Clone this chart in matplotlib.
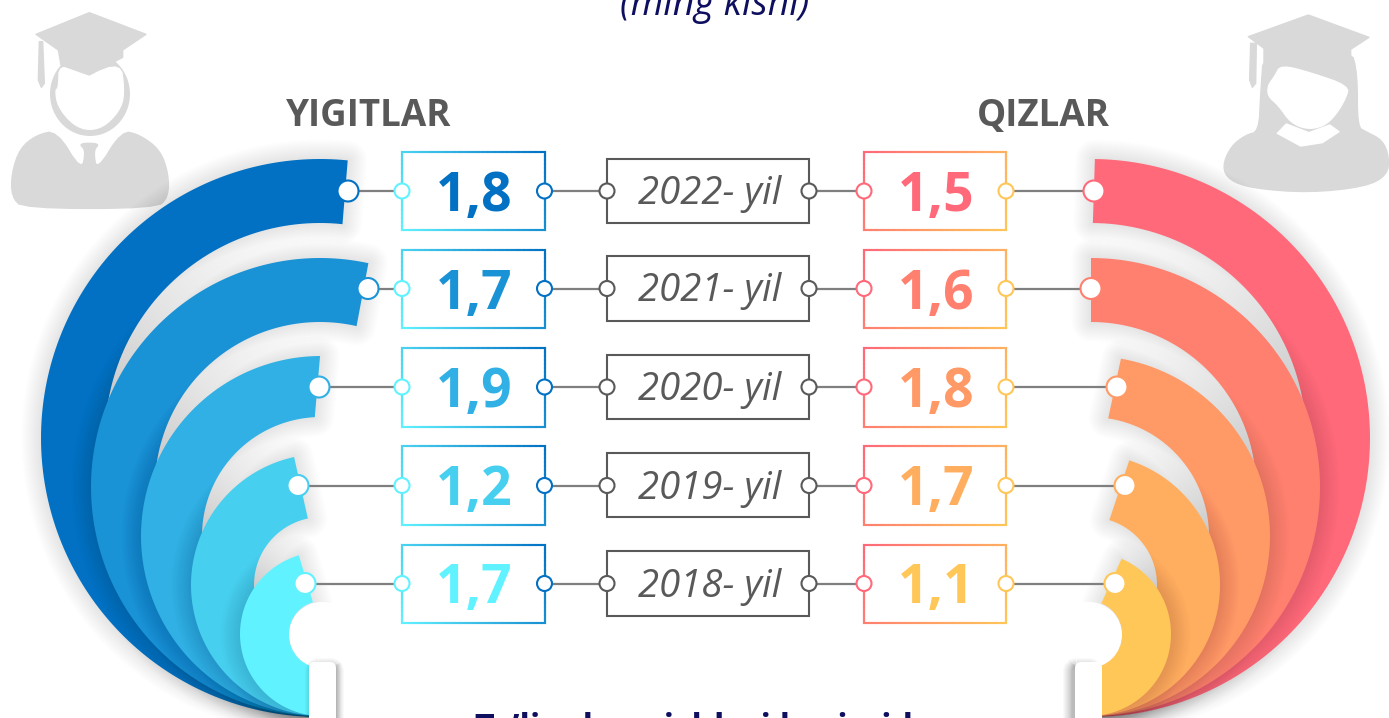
import numpy as np
import matplotlib
matplotlib.use('Agg')
import matplotlib.pyplot as plt
from matplotlib.collections import LineCollection
from matplotlib.patches import Circle, FancyBboxPatch, Polygon, Ellipse, Rectangle

plt.rcParams['font.family'] = ['Open Sans', 'DejaVu Sans']

years = ['2022- yil', '2021- yil', '2020- yil', '2019- yil', '2018- yil']
yigitlar = [1.8, 1.7, 1.9, 1.2, 1.7]
qizlar = [1.5, 1.6, 1.8, 1.7, 1.1]

blues = ['#0271C4', '#1A92D6', '#30B0E4', '#47CFEF', '#60F2FF']
reds = ['#FF6979', '#FF806E', '#FF9966', '#FFAE5F', '#FFC658']
grey = '#595959'
navy = '#0F0F5F'
icon_grey = '#D9D9D9'

# geometry of the crescents, in pixels
mirror = 1411.0
row_y = [191, 288.5, 387, 485.5, 583.5]
val_top = [152, 250, 348, 446, 545]
val_bot = [230, 328, 427, 525, 623]
yr_top = [159, 256, 355, 453, 551]
yr_bot = [223, 321, 419, 517, 616]
centers = [(320, 438), (320, 487), (321, 536), (322, 585), (322, 634)]
r_out = [279, 229, 180, 131, 82]
r_in = [215, 165, 119, 68, 33]
lean_left = [(5.7, 6), (12.2, 12.8), (-0.3, -3), (-12.3, -12), (-16.4, -16)]
lean_right = [(-0.8, -0.5), (0, 0), (-9.9, -8.8), (-17.9, -17.4), (-23.4, -22)]
tip_left = [348, 368, 319, 298, 305]
tip_right = [1094, 1091, 1117, 1125, 1115]


def band_verts(cx, cy, ro, ri, lean, flip):
    t_out = np.radians(np.linspace(lean[0], -180, 160))
    t_in = np.radians(np.linspace(-180, lean[1], 120))
    xs = np.r_[cx + ro*np.sin(t_out), cx + ri*np.sin(t_in)]
    ys = np.r_[cy - ro*np.cos(t_out), cy - ri*np.cos(t_in)]
    if flip:
        xs = mirror - xs
    return np.c_[xs, ys]


def shadow(ax, verts, z, strength=0.008, reach=42):
    for w in range(3, reach, 3):
        ax.add_patch(Polygon(verts, closed=True, fill=False, edgecolor='black', alpha=strength,
                             lw=w*0.72, joinstyle='round', zorder=z))


def chaikin(points, n=2):
    pts = np.array(points, dtype=float)
    for _ in range(n):
        nxt = np.roll(pts, -1, axis=0)
        pts = np.c_[0.75*pts + 0.25*nxt, 0.25*pts + 0.75*nxt].reshape(-1, 2)
    return pts


def icon_part(ax, points, color, ox=0.0, smooth=False):
    pts = np.array(points, dtype=float)/3.0
    pts[:, 0] += ox
    if smooth:
        pts = chaikin(pts)
    ax.add_patch(Polygon(pts, closed=True, facecolor=color, edgecolor=color, lw=1.0,
                         joinstyle='round', zorder=1))


def gradient_box(ax, x0, x1, y0, y1, c_start, c_end, start_corner):
    # border drawn in short pieces so that the colour can run across the box
    n = 60
    px = np.r_[np.linspace(x0, x1, n), np.full(n, x1), np.linspace(x1, x0, n), np.full(n, x0)]
    py = np.r_[np.full(n, y0), np.linspace(y0, y1, n), np.full(n, y1), np.linspace(y1, y0, n)]
    sx, sy = start_corner
    ex, ey = (x0 + x1 - sx, y0 + y1 - sy)
    d = np.array([ex - sx, ey - sy], dtype=float)
    t = ((px - sx)*d[0] + (py - sy)*d[1])/np.dot(d, d)
    a = np.array(matplotlib.colors.to_rgb(c_start))
    b = np.array(matplotlib.colors.to_rgb(c_end))
    cols = a + np.clip(t, 0, 1)[:, None]*(b - a)
    segs = np.stack([np.c_[px[:-1], py[:-1]], np.c_[px[1:], py[1:]]], axis=1)
    ax.add_collection(LineCollection(segs, colors=cols[:-1], linewidths=1.5, capstyle='projecting', zorder=6))


def node(ax, x, y, r, edge, z=8):
    ax.add_patch(Circle((x, y), r, facecolor='white', edgecolor=edge, lw=1.5, zorder=z))


fig = plt.figure(figsize=(13.89, 7.18), dpi=100)
ax = fig.add_axes([0, 0, 1, 1])
ax.set_xlim(0, 1389)
ax.set_ylim(718, 0)
ax.axis('off')

# graduate icons
male_ox, female_ox = 0, 1209
icon_part(ax, [(35, 520), (60, 445), (110, 405), (170, 392), (245, 515), (258, 450), (235, 430), (300, 430),
               (280, 450), (290, 515), (365, 392), (420, 405), (480, 450), (505, 520), (505, 590), (470, 625),
               (70, 625), (35, 590)], icon_grey, male_ox, True)
ax.add_patch(Ellipse((90, 94), 80, 84, facecolor=icon_grey, edgecolor='none', zorder=1))
icon_part(ax, [(178, 190), (268, 225), (362, 190), (372, 265), (366, 320), (320, 375), (270, 392), (220, 375),
               (174, 320), (166, 270), (176, 265)], 'white', male_ox, True)
icon_part(ax, [(268, 38), (438, 103), (368, 150), (368, 172), (268, 225), (183, 195), (175, 150), (108, 103)],
          icon_grey, male_ox)
icon_part(ax, [(118, 125), (128, 125), (133, 250), (124, 262), (115, 240)], icon_grey, male_ox)

icon_part(ax, [(150, 395), (155, 280), (165, 145), (425, 145), (445, 220), (445, 380), (470, 395), (520, 420),
               (540, 470), (535, 525), (470, 560), (300, 578), (130, 565), (60, 540), (40, 500), (65, 440),
               (110, 405)], icon_grey, female_ox, True)
icon_part(ax, [(118, 110), (298, 45), (480, 112), (425, 148), (425, 200), (165, 200), (165, 145)], icon_grey, female_ox)
icon_part(ax, [(215, 195), (305, 218), (420, 258), (410, 295), (380, 345), (345, 378), (295, 388), (245, 368),
               (208, 315), (178, 290), (176, 258), (198, 228)], 'white', female_ox, True)
icon_part(ax, [(232, 372), (300, 398), (362, 375), (390, 395), (340, 428), (275, 438), (205, 400)],
          'white', female_ox)
icon_part(ax, [(125, 130), (142, 130), (140, 250), (130, 262), (122, 240)], icon_grey, female_ox)

# crescents, back to front
for i in range(5):
    cx, cy = centers[i]
    for leans, cols, flip in ((lean_left, blues, False), (lean_right, reds, True)):
        v = band_verts(cx, cy, r_out[i], r_in[i], leans[i], flip)
        z = 2 + i*0.1
        shadow(ax, v, z)
        ax.add_patch(Polygon(v, closed=True, facecolor=cols[i], edgecolor='none', zorder=z + 0.01))

# white centre and the little posts at the foot of each side
for flip in (False, True):
    cx = mirror - 322 if flip else 322
    ax.add_patch(Circle((cx, 635), 33, facecolor='white', edgecolor='none', zorder=3))
    x0 = mirror - 337 if flip else 308
    x_s = x0 - 4 if flip else x0 + 4
    for w in range(2, 20, 2):
        ax.add_patch(FancyBboxPatch((x_s + 2, 667), 21, 60, boxstyle='round,pad=0,rounding_size=5',
                                    fill=False, edgecolor='black', alpha=0.025, lw=w*0.72, zorder=3.1))
    ax.add_patch(FancyBboxPatch((x0 + 1, 662), 27, 70, boxstyle='round,pad=0,rounding_size=6',
                                facecolor='white', edgecolor='none', zorder=3.2))

# rows: connectors, boxes, nodes and labels
for i in range(5):
    y = row_y[i]
    ax.plot([tip_left[i], 402], [y, y], color='#7F7F7F', lw=1.6, zorder=4)
    ax.plot([545, 607], [y, y], color='#7F7F7F', lw=1.6, zorder=4)
    ax.plot([809, 864], [y, y], color='#7F7F7F', lw=1.6, zorder=4)
    ax.plot([1006, tip_right[i]], [y, y], color='#7F7F7F', lw=1.6, zorder=4)

    gradient_box(ax, 402, 544.5, val_top[i], val_bot[i], blues[0], blues[4], (544.5, val_top[i]))
    gradient_box(ax, 864, 1006, val_top[i], val_bot[i], reds[0], reds[4], (864, val_top[i]))
    ax.add_patch(Rectangle((606.5, yr_top[i]), 202, yr_bot[i] - yr_top[i], facecolor='white', edgecolor=grey,
                           lw=1.5, zorder=6))

    node(ax, tip_left[i], y, 10.5, blues[i])
    node(ax, tip_right[i], y, 10.5, reds[i])
    node(ax, 402, y, 7.5, blues[4])
    node(ax, 544.5, y, 7.5, blues[0])
    node(ax, 607, y, 7.5, grey)
    node(ax, 809, y, 7.5, grey)
    node(ax, 864, y, 7.5, reds[0])
    node(ax, 1006, y, 7.5, reds[4])

    ax.text(474.5, y + 20, ('%.1f' % yigitlar[i]).replace('.', ','), color=blues[i], fontsize=38.5,
            fontweight='bold', ha='center', va='baseline', zorder=9)
    ax.text(936, y + 20, ('%.1f' % qizlar[i]).replace('.', ','), color=reds[i], fontsize=38.5,
            fontweight='bold', ha='center', va='baseline', zorder=9)
    ax.text(710, y + 13, years[i], color=grey, fontsize=27.5, fontstyle='italic', ha='center', va='baseline', zorder=9)

ax.text(369, 126, 'YIGITLAR', color=grey, fontsize=26.5, fontweight='bold', ha='center', va='baseline', zorder=9)
ax.text(1043, 126, 'QIZLAR', color=grey, fontsize=26.5, fontweight='bold', ha='center', va='baseline', zorder=9)
ax.text(715, 15, '(ming kishi)', color=navy, fontsize=27, fontstyle='italic', ha='center', va='baseline',
        clip_on=True, zorder=9)
ax.text(704.5, 738, 'Ta’lim bosqichlari kesimida', color=navy, fontsize=24.6, fontweight='bold', ha='center',
        va='baseline', clip_on=True, zorder=9)

fig.savefig('out.png', dpi=100)
plt.close(fig)
